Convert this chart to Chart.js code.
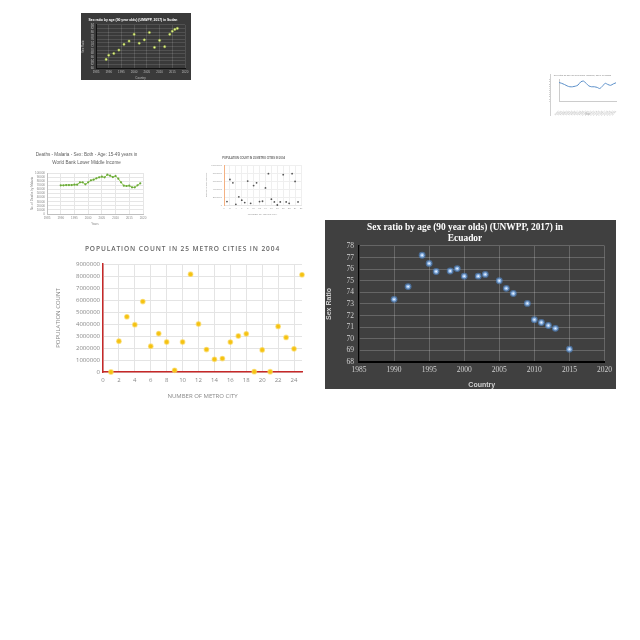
<!DOCTYPE html>
<html><head><meta charset="utf-8">
<script src="https://cdn.jsdelivr.net/npm/chart.js@4"></script>
<style>
html,body{margin:0;padding:0;background:#fff;width:640px;height:640px;overflow:hidden;}
canvas{position:absolute;}
</style></head><body>
<canvas id="sudan" width="110" height="67" style="left:81px;top:13px"></canvas>
<canvas id="trend" width="72" height="44" style="left:549px;top:72px"></canvas>
<canvas id="deaths" width="120" height="76" style="left:30px;top:150px"></canvas>
<canvas id="popSmall" width="100" height="64" style="left:205px;top:152px"></canvas>
<canvas id="popBig" width="255" height="160" style="left:55px;top:240px"></canvas>
<canvas id="ecuador" width="291" height="169" style="left:325px;top:220px"></canvas>
<script>
// ---------- data ----------
const sudanYears = [1989,1990,1992,1994,1996,1998,2000,2002,2004,2006,2008,2010,2012,2014,2015,2016,2017];
const sudanRatio = [64.8,67.1,68.1,70.0,73.2,75.0,78.8,73.8,75.7,79.8,71.5,75.4,71.9,78.8,80.5,81.5,82.1];

const trendYears = [1990,1991,1992,1993,1994,1995,1996,1997,1998,1999,2000,2001,2002,2003,2004,2005,2006,2007,2008,2009,2010,2011];
const trendValues = [13.0,12.4,11.6,10.6,10.0,10.0,10.4,11.2,13.4,14.0,12.4,10.6,10.0,10.0,9.6,8.8,10.4,12.4,11.6,11.0,12.0,12.8];

const deathYears = [1990,1991,1992,1993,1994,1995,1996,1997,1998,1999,2000,2001,2002,2003,2004,2005,2006,2007,2008,2009,2010,2011,2012,2013,2014,2015,2016,2017,2018,2019];
const deathCounts = [69900,69900,70700,70700,70700,71500,71500,77200,77200,72400,77200,82100,83700,87000,89400,91000,89400,95900,93500,90200,92700,86200,77200,69100,68300,69100,65000,65000,69900,74800];

const smallCity = [1,2,3,4,5,6,7,8,9,10,11,12,13,14,15,16,17,18,19,20,21,22,23,24,25];
const smallPop = [850000,6400000,5560000,170000,2050000,1200000,600000,6000000,430000,4870000,5560000,850000,940000,4270000,7860000,1450000,770000,0,770000,7600000,770000,430000,7860000,5900000,770000];

const metroCity = [1,2,3,4,5,6,7,8,9,10,11,12,13,14,15,16,17,18,19,20,21,22,23,24,25];
const metroPop = [0,2570000,4600000,3940000,5870000,2150000,3200000,2500000,140000,2500000,8150000,4000000,1870000,1060000,1120000,2490000,3000000,3180000,30000,1840000,20000,3800000,2880000,1930000,8100000];

const ecuYears = [1990,1992,1994,1995,1996,1998,1999,2000,2002,2003,2005,2006,2007,2009,2010,2011,2012,2013,2015];
const ecuRatio = [73.4,74.5,77.2,76.5,75.8,75.85,76.05,75.4,75.4,75.55,75.0,74.35,73.9,73.05,71.65,71.4,71.15,70.9,69.1];

// ---------- helpers ----------
const pts = (xs, ys) => xs.map((x, i) => ({x, y: ys[i]}));
const plain = v => String(v);
const bgPlugin = (color, edge) => ({id: 'bg', beforeDraw(c) {
  const g = c.ctx; g.save(); g.fillStyle = color; g.fillRect(0, 0, c.width, c.height);
  if (edge) { g.strokeStyle = edge; g.lineWidth = 1; g.beginPath(); g.moveTo(1.5, 2); g.lineTo(1.5, c.height); g.stroke(); }
  g.restore(); }});
const base = {responsive: false, animation: false, devicePixelRatio: 1,
  plugins: {legend: {display: false}, tooltip: {enabled: false}}};

// ---------- Sudan thumbnail ----------
new Chart(document.getElementById('sudan'), {
  type: 'scatter',
  data: {datasets: [{data: pts(sudanYears, sudanRatio), pointRadius: 1.1,
    pointBackgroundColor: '#e6f59a', pointBorderColor: 'rgba(170,200,60,0.5)', pointBorderWidth: 1}]},
  options: {...base,
    layout: {padding: {left: 0, right: 6, top: 0, bottom: 0}},
    plugins: {...base.plugins, title: {display: true, text: 'Sex ratio by age (90 year olds) (UNWPP, 2017) in Sudan',
      color: '#ffffff', font: {family: 'Liberation Sans', size: 3.4, weight: 'bold'}, padding: {top: 5, bottom: 2.9}}},
    scales: {
      x: {type: 'linear', min: 1985, max: 2020,
        ticks: {stepSize: 5, autoSkip: false, color: '#bbbbbb', font: {size: 3}, padding: 2, maxRotation: 0, callback: plain},
        grid: {color: 'rgba(255,255,255,0.12)', drawTicks: false}, border: {color: '#111', width: 1},
        title: {display: true, text: 'Country', color: '#bbbbbb', font: {size: 3}, padding: {top: 1, bottom: 0}},
        afterFit: s => { s.height = 12; }},
      y: {min: 60, max: 84,
        ticks: {stepSize: 2, autoSkip: false, color: '#bbbbbb', font: {size: 3}, padding: 2, callback: plain},
        grid: {color: 'rgba(255,255,255,0.12)', drawTicks: false}, border: {color: '#111', width: 1},
        title: {display: true, text: 'Sex Ratio', color: '#bbbbbb', font: {size: 3}, padding: 0},
        afterFit: s => { s.width = 15; }}
    }},
  plugins: [bgPlugin('#3a3a3a')]
});

// ---------- trend thumbnail (top right) ----------
new Chart(document.getElementById('trend'), {
  type: 'scatter',
  data: {datasets: [{data: pts(trendYears, trendValues), showLine: true, borderColor: '#5b8fc9', borderWidth: 1,
    pointRadius: 0, tension: 0.3}]},
  options: {...base,
    layout: {padding: {left: 0, right: 5, top: 0, bottom: 0}},
    plugins: {...base.plugins, title: {display: true, text: 'Sex ratio by age (90 year olds) (UNWPP, 2017) in Sudan',
      color: '#999', font: {size: 2.2}, padding: {top: 2, bottom: 3}}},
    scales: {
      x: {type: 'linear', min: 1990, max: 2011,
        ticks: {stepSize: 1, color: '#aaaaaa', font: {size: 2.6}, padding: 1, maxRotation: 45, minRotation: 45, autoSkip: false, callback: plain},
        grid: {display: false}, border: {color: '#cccccc', width: 1},
        title: {display: true, text: 'Year', color: '#aaaaaa', font: {size: 2.6}, padding: {top: 1, bottom: 0}},
        afterFit: s => { s.height = 15; }},
      y: {min: 0, max: 15,
        ticks: {stepSize: 1.5, autoSkip: false, color: '#aaaaaa', font: {size: 2.4}, padding: 1, callback: plain},
        grid: {display: false}, border: {color: '#cccccc', width: 1},
        afterFit: s => { s.width = 10; }}
    }},
  plugins: [bgPlugin('#ffffff', '#d0d0d0')]
});

// ---------- Deaths malaria thumbnail ----------
new Chart(document.getElementById('deaths'), {
  type: 'scatter',
  data: {datasets: [{data: pts(deathYears, deathCounts), showLine: true, borderColor: '#92d050', borderWidth: 1,
    pointRadius: 1.1, pointBackgroundColor: '#6aa83a', pointBorderColor: '#6aa83a', pointBorderWidth: 0}]},
  options: {...base,
    layout: {padding: {left: 0, right: 7, top: 0, bottom: 0}},
    plugins: {...base.plugins, title: {display: true,
      text: ['Deaths - Malaria - Sex: Both - Age: 15-49 years in', 'World Bank Lower Middle Income'],
      color: '#606060', font: {family: 'Liberation Sans', size: 4.6, weight: 'normal', lineHeight: 1.85}, padding: {top: 0, bottom: 6}}},
    scales: {
      x: {type: 'linear', min: 1985, max: 2020,
        ticks: {stepSize: 5, autoSkip: false, color: '#888', font: {size: 3}, padding: 2, maxRotation: 0, callback: plain},
        grid: {color: '#e6e6e6', drawTicks: false}, border: {color: '#bfbfbf', width: 1},
        title: {display: true, text: 'Years', color: '#888', font: {size: 3}, padding: {top: 1, bottom: 0}},
        afterFit: s => { s.height = 12; }},
      y: {min: 0, max: 100000,
        ticks: {stepSize: 10000, autoSkip: false, color: '#888', font: {size: 3}, padding: 2, callback: plain},
        grid: {color: '#e6e6e6', drawTicks: false}, border: {color: '#bfbfbf', width: 1},
        title: {display: true, text: 'No. of Deaths by Malaria', color: '#888', font: {size: 3}, padding: 0},
        afterFit: s => { s.width = 17; }}
    }},
  plugins: [bgPlugin('#ffffff')]
});

// ---------- small population thumbnail ----------
new Chart(document.getElementById('popSmall'), {
  type: 'scatter',
  data: {datasets: [{data: pts(smallCity, smallPop), pointRadius: 0.9,
    pointBackgroundColor: '#555', pointBorderColor: '#555', pointBorderWidth: 0, clip: false}]},
  options: {...base,
    layout: {padding: {left: 0, right: 3, top: 0, bottom: 0}},
    plugins: {...base.plugins, title: {display: true, text: 'POPULATION COUNT IN 25 METRO CITIES IN 2004',
      color: '#666', font: {size: 2.6, weight: 'bold'}, padding: {top: 5, bottom: 5}}},
    scales: {
      x: {type: 'linear', min: 0, max: 26,
        ticks: {stepSize: 2, includeBounds: false, autoSkip: false, color: '#999', font: {size: 2.4}, padding: 2, maxRotation: 0, callback: plain},
        grid: {color: '#efefef', drawTicks: false}, border: {color: '#e6e6e6', width: 1},
        title: {display: true, text: 'NUMBER OF METRO CITY', color: '#999', font: {size: 2.4}, padding: {top: 1, bottom: 0}},
        afterFit: s => { s.height = 11; }},
      y: {min: 0, max: 10000000,
        ticks: {stepSize: 2000000, autoSkip: false, color: '#999', font: {size: 2.4}, padding: 2, callback: plain},
        grid: {color: '#efefef', drawTicks: false}, border: {color: '#f4b183', width: 1},
        title: {display: true, text: 'POPULATION COUNT', color: '#999', font: {size: 2.4}, padding: 0},
        afterFit: s => { s.width = 19; }}
    }},
  plugins: [bgPlugin('#ffffff')]
});

// ---------- big population chart ----------
const popTitle = 'POPULATION COUNT IN 25 METRO CITIES IN 2004';
const spacedTitle = {id: 'spacedTitle', afterDraw(c) {
  const g = c.ctx; g.save();
  g.font = '600 6.6px "Open Sans"'; g.fillStyle = '#666666';
  g.letterSpacing = '0.9px'; g.textAlign = 'center'; g.textBaseline = 'middle';
  g.fillText(popTitle, c.width / 2, 9.5); g.restore(); }};
new Chart(document.getElementById('popBig'), {
  type: 'scatter',
  data: {datasets: [{data: pts(metroCity, metroPop), pointRadius: 2.3,
    pointBackgroundColor: '#f5c211', pointBorderColor: 'rgba(250,215,90,0.6)', pointBorderWidth: 1.2, clip: false}]},
  options: {...base,
    layout: {padding: {left: 0, right: 8, top: 24, bottom: 0}},
    scales: {
      x: {type: 'linear', min: 0, max: 25,
        ticks: {stepSize: 2, includeBounds: false, autoSkip: false, color: '#888', font: {family: 'Open Sans', size: 6}, padding: 5, maxRotation: 0, callback: plain},
        grid: {color: '#e4e4e4', drawTicks: false}, border: {color: '#c62828', width: 1.5},
        title: {display: true, text: 'NUMBER OF METRO CITY', color: '#888', font: {family: 'Open Sans', size: 6}, padding: {top: 4, bottom: 0}},
        afterFit: s => { s.height = 28; }},
      y: {min: 0, max: 9000000,
        ticks: {stepSize: 1000000, autoSkip: false, color: '#888', font: {family: 'Open Sans', size: 6}, padding: 3, callback: plain},
        grid: {color: '#e4e4e4', drawTicks: false}, border: {color: '#c62828', width: 1.5},
        title: {display: true, text: 'POPULATION COUNT', color: '#888', font: {family: 'Open Sans', size: 6}, padding: {top: 0, bottom: 3}},
        afterFit: s => { s.width = 48; }}
    }},
  plugins: [bgPlugin('#ffffff'), spacedTitle]
});

// ---------- Ecuador chart ----------
new Chart(document.getElementById('ecuador'), {
  type: 'scatter',
  data: {datasets: [{data: pts(ecuYears, ecuRatio), pointRadius: 2.2,
    pointBackgroundColor: '#eaf3ff', pointBorderColor: 'rgba(84,141,212,0.6)', pointBorderWidth: 2.5, clip: false}]},
  options: {...base,
    layout: {padding: {left: 0, right: 11, top: 0, bottom: 0}},
    plugins: {...base.plugins, title: {display: true,
      text: ['Sex ratio by age (90 year olds) (UNWPP, 2017) in', 'Ecuador'],
      color: '#ffffff', font: {family: 'Liberation Serif', size: 9.4, weight: 'bold', lineHeight: 1.17}, padding: {top: 2, bottom: 2}}},
    scales: {
      x: {type: 'linear', min: 1985, max: 2020,
        ticks: {stepSize: 5, autoSkip: false, color: '#d0d0d0', font: {family: 'Liberation Serif', size: 7.5}, padding: 4, maxRotation: 0, callback: plain},
        grid: {color: 'rgba(255,255,255,0.2)', drawTicks: false}, border: {color: '#000000', width: 2},
        title: {display: true, text: 'Country', color: '#d0d0d0', font: {family: 'Liberation Sans', size: 7, weight: 'bold'}, padding: {top: 2, bottom: 0}},
        afterFit: s => { s.height = 27; }},
      y: {min: 68, max: 78,
        ticks: {stepSize: 1, autoSkip: false, color: '#d0d0d0', font: {family: 'Liberation Serif', size: 7.5}, padding: 5, callback: plain},
        grid: {color: 'rgba(255,255,255,0.2)', drawTicks: false}, border: {color: '#000000', width: 1.5},
        title: {display: true, text: 'Sex Ratio', color: '#d0d0d0', font: {family: 'Liberation Sans', size: 7, weight: 'bold'}, padding: {top: 0, bottom: 2}},
        afterFit: s => { s.width = 34; }}
    }},
  plugins: [bgPlugin('#404040')]
});
</script>
</body></html>
